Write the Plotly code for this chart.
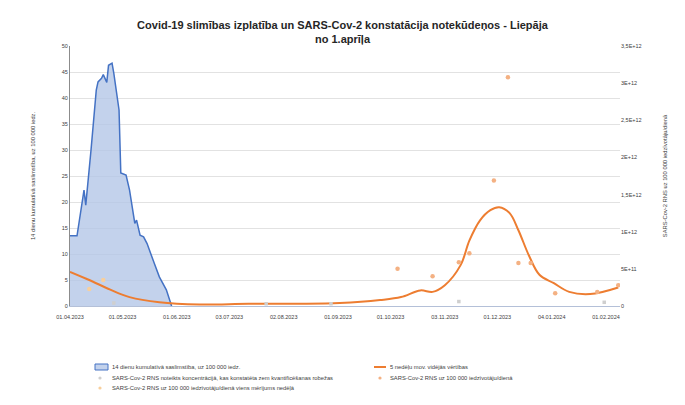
import plotly.graph_objects as go

# 14-day cumulative incidence (left axis)
inc_dates = ["2023-04-01","2023-04-05","2023-04-09","2023-04-10","2023-04-13","2023-04-16","2023-04-17",
             "2023-04-19","2023-04-20","2023-04-22","2023-04-23","2023-04-25","2023-04-26","2023-04-29",
             "2023-04-30","2023-05-03","2023-05-05","2023-05-08","2023-05-09","2023-05-11","2023-05-13",
             "2023-05-15","2023-05-19","2023-05-22","2023-05-26","2023-05-29"]
inc_vals = [13.5,13.5,22.3,19.4,30,41.5,43.1,43.8,44.5,43,46.3,46.7,44.8,37.7,25.6,25.2,22.3,15.9,16.5,
            13.6,13.3,12,8.3,5.6,3.1,0]

# 5-week moving average (right axis, x 1E+12)
ma_dates = ["2023-04-01","2023-04-12","2023-04-24","2023-05-05","2023-05-22","2023-06-14","2023-07-12",
            "2023-08-10","2023-09-02","2023-09-25","2023-10-07","2023-10-18","2023-10-25","2023-11-01",
            "2023-11-10","2023-11-15","2023-11-21","2023-11-27","2023-12-02","2023-12-08","2023-12-13",
            "2023-12-19","2023-12-25","2024-01-02","2024-01-11","2024-01-23","2024-02-08"]
ma_vals = [0.46,0.35,0.22,0.12,0.05,0.02,0.03,0.03,0.04,0.08,0.12,0.21,0.19,0.28,0.55,0.88,1.15,1.29,
           1.33,1.25,1.02,0.68,0.42,0.31,0.19,0.16,0.25]

# RNA per 100 000 inhabitants/day (right axis, x 1E+12)
rna_dates = ["2023-10-05","2023-10-25","2023-11-09","2023-11-15","2023-11-29","2023-12-07","2023-12-13",
             "2023-12-20","2024-01-03","2024-01-27","2024-02-08"]
rna_vals = [0.50,0.40,0.59,0.71,1.69,3.08,0.58,0.58,0.17,0.19,0.28]

# single measurements
single_dates = ["2023-04-12","2023-04-20"]
single_vals = [0.23,0.35]

# detected below quantification limit
below_dates = ["2023-04-26","2023-07-22","2023-08-28","2023-11-09","2024-01-31"]
below_vals = [0.04,0.03,0.03,0.06,0.05]

tick_dates = ["2023-04-01","2023-05-01","2023-06-01","2023-07-01","2023-08-01","2023-09-01","2023-10-01",
              "2023-11-01","2023-12-01","2024-01-01","2024-02-01"]
tick_text = ["01.04.2023","01.05.2023","01.06.2023","03.07.2023","02.08.2023","01.09.2023","01.10.2023",
             "03.11.2023","01.12.2023","04.01.2024","01.02.2024"]
right_ticks = [0,0.5,1,1.5,2,2.5,3,3.5]
right_text = ["0","5E+11","1E+12","1,5E+12","2E+12","2,5E+12","3E+12","3,5E+12"]

names = ["14 dienu kumulatīvā saslimstība, uz 100 000 iedz.",
         "5 nedēļu mov. vidējās vērtības",
         "SARS-Cov-2 RNS noteikts koncentrācijā, kas konstatēta zem kvantificēšanas robežas",
         "SARS-Cov-2 RNS uz 100 000 iedzīvotāju/dienā",
         "SARS-Cov-2 RNS uz 100 000 iedzīvotāju/dienā viens mērījums nedēļā"]

BLUE = "#4472c4"; BLUE_FILL = "rgba(180,199,231,0.8)"
ORANGE = "#ed7d31"; DOT = "#f4b183"; SINGLE = "#f8cf9c"; BELOW = "#cfcfcf"

fig = go.Figure()
fig.add_trace(go.Scatter(x=inc_dates, y=inc_vals, mode="lines", fill="tozeroy",
                         line=dict(color=BLUE, width=1.5), fillcolor=BLUE_FILL, name=names[0]))
fig.add_trace(go.Scatter(x=ma_dates, y=ma_vals, mode="lines", yaxis="y2", line_shape="spline",
                         line=dict(color=ORANGE, width=2), name=names[1]))
fig.add_trace(go.Scatter(x=below_dates, y=below_vals, mode="markers", yaxis="y2",
                         marker=dict(color=BELOW, size=3.5, symbol="square"), name=names[2]))
fig.add_trace(go.Scatter(x=rna_dates, y=rna_vals, mode="markers", yaxis="y2",
                         marker=dict(color=DOT, size=4.5), name=names[3]))
fig.add_trace(go.Scatter(x=single_dates, y=single_vals, mode="markers", yaxis="y2",
                         marker=dict(color=SINGLE, size=4.5), name=names[4]))

# ---- custom compact legend (page px -> paper coords) ----
W, H = 669, 389
PL, PR, PT, PB = 70, 620, 46, 306  # plot area in page px
def px(x): return (x - PL) / (PR - PL)
def py(y): return (PB - y) / (PB - PT)

shapes = []
annots = []
rows = [367, 378, 388]
col1_text, col2_text = 110, 388
shapes.append(dict(type="rect", xref="paper", yref="paper", x0=px(95), x1=px(108), y0=py(370), y1=py(364),
                   fillcolor=BLUE_FILL, line=dict(color=BLUE, width=1)))
shapes.append(dict(type="line", xref="paper", yref="paper", x0=px(374), x1=px(386), y0=py(367), y1=py(367),
                   line=dict(color=ORANGE, width=2)))
def dot(cx, cy, color, r=1.6):
    return dict(type="circle", xref="paper", yref="paper", x0=px(cx - r), x1=px(cx + r),
                y0=py(cy + r), y1=py(cy - r), fillcolor=color, line=dict(width=0))
shapes.append(dot(100, rows[1], BELOW))
shapes.append(dot(380, rows[1], DOT))
shapes.append(dot(100, rows[2], SINGLE))
leg_items = [(col1_text, rows[0], names[0]), (col2_text, rows[0], names[1]),
             (col1_text, rows[1], names[2]), (col2_text, rows[1], names[3]),
             (col1_text, rows[2], names[4])]
for x, y, t in leg_items:
    annots.append(dict(text=t, xref="paper", yref="paper", x=px(x), y=py(y), xanchor="left", yanchor="middle",
                       showarrow=False, font=dict(size=5.8, color="#404040")))

fig.update_layout(
    width=W, height=H,
    margin=dict(l=PL - 8, r=W + 8 - PR, t=PT - 8, b=H + 8 - PB),
    paper_bgcolor="white", plot_bgcolor="white",
    font=dict(family="Liberation Sans, Arial", size=6, color="#404040"),
    title=dict(text="<b>Covid-19 slimības izplatība un SARS-Cov-2 konstatācija notekūdeņos - Liepāja<br>no 1.aprīļa</b>",
               x=0.5, xanchor="center", y=1 - 21 / H, yanchor="top", font=dict(size=11, color="#262626")),
    xaxis=dict(type="date", range=["2023-04-01", "2024-02-09"], tickvals=tick_dates, ticktext=tick_text,
               showgrid=False, showline=True, linecolor="#b4c0d8", ticks="", tickfont=dict(size=5.5),
               ticklabelstandoff=5, automargin=False),
    yaxis=dict(range=[0, 50], dtick=5, showgrid=True, gridcolor="#e2e2e2", showline=True,
               linecolor="#8c8c8c", zeroline=False, tickfont=dict(size=5.5), automargin=False,
               title=dict(text="14 dienu kumulatīvā saslimstība, uz 100 000 iedz.", font=dict(size=5.8), standoff=25)),
    yaxis2=dict(overlaying="y", side="right", range=[0, 3.5], tickvals=right_ticks, ticktext=right_text,
                showgrid=False, zeroline=False, showline=False, tickfont=dict(size=5.5), automargin=False,
                title=dict(text="SARS-Cov-2 RNS uz 100 000 iedzīvotāju/dienā", font=dict(size=5.8), standoff=22)),
    showlegend=False,
    shapes=shapes,
    annotations=annots,
)
fig.write_html("out.html")
